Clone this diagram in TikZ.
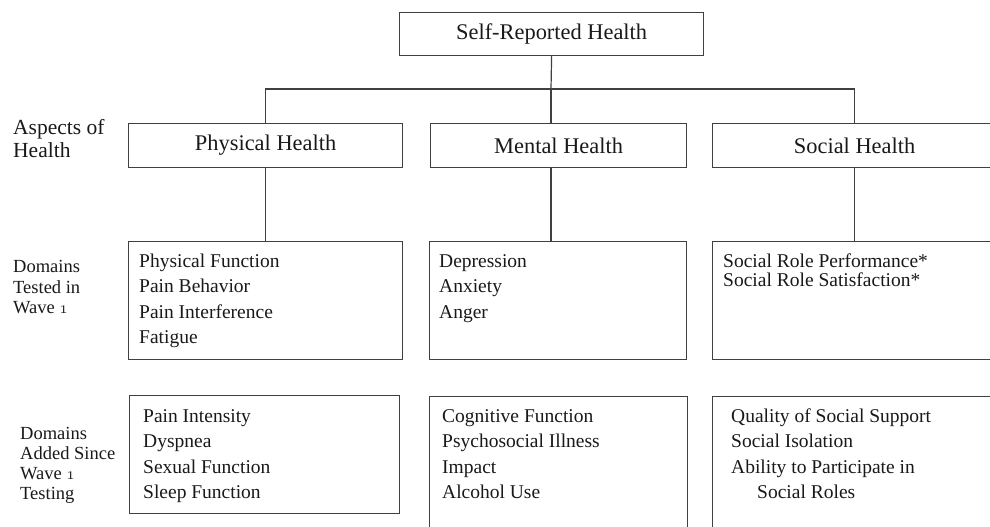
\documentclass[tikz,border=0pt]{standalone}
\usepackage{fontspec}
\setmainfont{Liberation Serif}
% old-style figure one, taken from the math italic font
\newcommand{\osone}{{\usefont{OML}{cmm}{m}{it}1}}
\begin{document}
\begin{tikzpicture}[x=1pt,y=-1pt,
  box/.style={rectangle, draw=black!75, line width=1.2pt, inner sep=0pt,
              anchor=north west, text=black!90, font=\fontsize{22.4}{26}\selectfont},
  link/.style={draw=black!75, line width=1.2pt},
  item/.style={anchor=base west, inner sep=0pt, text=black!90,
               font=\fontsize{19.5}{23}\selectfont},
  side/.style={anchor=base west, inner sep=0pt, text=black!90,
               font=\fontsize{18.5}{21}\selectfont},
  aspect/.style={anchor=base west, inner sep=0pt, text=black!90,
                 font=\fontsize{21.5}{25}\selectfont},
]
\clip (0,0) rectangle (990,527);

% top of the hierarchy
\node[box, minimum width=304pt, minimum height=43pt] (top) at (399,12) {Self-Reported Health};

% aspects of health
\node[box, minimum width=274pt, minimum height=44pt] (phys) at (128,123) {Physical Health};
\node[box, minimum width=256pt, minimum height=44pt] (ment) at (430,123) {Mental Health};
\node[box, minimum width=284pt, minimum height=44pt] (soc)  at (712,123) {Social Health};

% domains tested in wave 1
\node[box, minimum width=274pt, minimum height=118pt] (phys2) at (128,241) {};
\node[box, minimum width=257pt, minimum height=118pt] (ment2) at (429,241) {};
\node[box, minimum width=284pt, minimum height=118pt] (soc2)  at (712,241) {};

% domains added since wave 1 testing
\node[box, minimum width=270pt, minimum height=118pt] (phys3) at (129,395) {};
\node[box, minimum width=258pt, minimum height=150pt] (ment3) at (429,396) {};
\node[box, minimum width=284pt, minimum height=150pt] (soc3)  at (712,396) {};

% connectors
\coordinate (hub) at (551,89);
\draw[link] (top.south) -- (hub);
\draw[link] (phys.north) |- (hub) -| (soc.north);
\draw[link] (hub) -- (hub |- ment.north);
\draw[link] (phys.south) -- (phys2.north);
\draw[link] (ment.south -| hub) -- (ment2.north -| hub);
\draw[link] (soc.south) -- (soc2.north);

% row labels
\node[aspect] (lA1) at (13,134) {Aspects of};
\node[aspect] (lA2) at (13,157) {Health};
\node[side] (lT1) at (13,272) {Domains};
\node[side] (lT2) at (13,293) {Tested in};
\node[side] (lT3) at (13,313) {Wave \osone};
\node[side] (lD1) at (20,439) {Domains};
\node[side] (lD2) at (20,459) {Added Since};
\node[side] (lD3) at (20,479) {Wave \osone};
\node[side] (lD4) at (20,499) {Testing};

% wave 1 domains
\node[item] (p1) at (139,267) {Physical Function};
\node[item] (p2) at (139,292) {Pain Behavior};
\node[item] (p3) at (139,318) {Pain Interference};
\node[item] (p4) at (139,343) {Fatigue};
\node[item] (m1) at (439,267) {Depression};
\node[item] (m2) at (439,292) {Anxiety};
\node[item] (m3) at (439,318) {Anger};
\node[item] (s1) at (723,267) {Social Role Performance*};
\node[item] (s2) at (723,286) {Social Role Satisfaction*};

% added domains
\node[item] (p5) at (143,422) {Pain Intensity};
\node[item] (p6) at (143,447) {Dyspnea};
\node[item] (p7) at (143,473) {Sexual Function};
\node[item] (p8) at (143,498) {Sleep Function};
\node[item] (m4) at (442,422) {Cognitive Function};
\node[item] (m5) at (442,447) {Psychosocial Illness};
\node[item] (m6) at (442,473) {Impact};
\node[item] (m7) at (442,498) {Alcohol Use};
\node[item] (s3) at (731,422) {Quality of Social Support};
\node[item] (s4) at (731,447) {Social Isolation};
\node[item] (s5) at (731,473) {Ability to Participate in};
\node[item] (s6) at (757,498) {Social Roles};
\end{tikzpicture}
\end{document}
